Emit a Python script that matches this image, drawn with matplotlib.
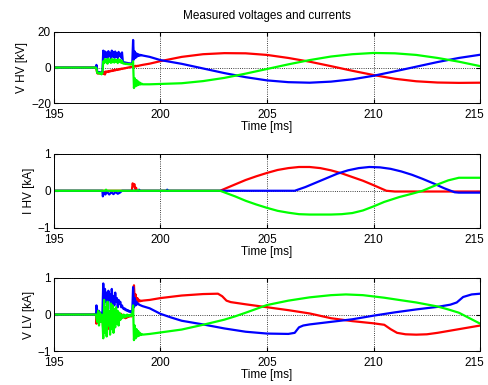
import numpy as np
import matplotlib
matplotlib.use("Agg")
import matplotlib.pyplot as plt
import matplotlib.transforms as mtransforms

plt.rcParams["font.family"] = ["Liberation Sans", "DejaVu Sans"]
plt.rcParams["font.size"] = 8.5

# burst sampling (197.00 ... 199.16 ms, 0.04 ms step)
t_burst = list(np.round(197.0 + 0.04 * np.arange(55), 2))

# ---- V HV [kV] ----
vhv_red_burst = [-1.0, -3.2, -3.4, -2.9, -3.3, -2.8, -3.0, -2.7, -3.6, -2.4, -3.9, -2.2,
                 -2.6, -2.1, -2.5, -1.9, -2.2, -1.7, -2.0, -1.5, -1.8, -1.3, -1.6, -1.1,
                 -1.4, -1.0, -1.2, -0.8, -1.0, -0.6, -0.8, -0.5, -0.6, -0.3, -0.4, -0.2,
                 -0.1, 0.0, 0.1, 0.2, 0.3, 0.4, 0.5, 0.6, 0.8, 0.5, 1.0, 0.7, 1.0, 0.9,
                 1.1, 1.2, 1.3, 1.4, 1.5]
vhv_blue_burst = [1.5, -2.5, -3.0, -2.5, -3.0, -2.8, -3.0, -2.5, 9.5,
                  5.5, 9.0, 6.0, 8.5, 5.2, 9.2, 6.5, 8.0, 5.0, 9.5, 6.2, 8.8, 5.5, 9.0,
                  6.0, 8.2, 5.3, 8.8, 6.4, 7.8, 5.6, 8.5,
                  3.2, 3.0, 2.9, 2.8, 2.7, 2.6, 2.5, 2.4, 2.4, 2.3, 2.2, 2.2,
                  15.5, 4.5, 9.0, 5.5, 8.0, 6.2, 7.5, 6.6, 7.2, 6.8, 7.0, 6.8]
vhv_green_burst = [-0.5, -3.0, -3.2, -2.8, -3.5, -3.0, -3.8, -3.1, 3.5,
                   2.5, 4.8, 3.0, 4.5, 2.2, 5.0, 3.2, 4.2, 2.6, 4.9, 3.0, 4.4, 2.8, 4.6,
                   3.4, 4.0, 2.5, 4.7, 3.1, 4.3, 2.7, 3.8,
                   2.4, 2.2, 2.3, 2.0, 2.2, 1.9, 2.1, 1.8, 2.0, 1.7, 1.9, 1.8,
                   3.5, -11.5, -6.0, -10.5, -7.0, -10.0, -7.8, -9.6, -8.5, -9.5, -9.0, -9.4]
vhv_t = [199.5, 200, 201, 202, 203, 204, 205, 206, 207, 208, 209, 210, 211, 212, 213, 214, 215]
vhv_red = [2.2, 3.6, 6.0, 7.5, 8.1, 8.0, 7.1, 5.4, 3.3, 0.8, -1.8, -4.2, -6.3, -7.7, -8.4, -8.6, -8.5]
vhv_blue = [6.0, 4.2, 2.1, -0.5, -3.1, -5.4, -7.2, -8.2, -8.5, -7.9, -6.6, -4.6, -2.1, 0.5, 3.1, 5.4, 7.2]
vhv_green = [-9.4, -9.2, -8.8, -7.6, -5.8, -3.4, -0.8, 1.8, 4.2, 6.2, 7.5, 8.2, 8.0, 7.1, 5.4, 3.3, 0.8]

# ---- I HV [kA] ----
ihv_red_t = [195, 198.66, 198.70, 198.74, 198.78, 198.82, 198.86, 198.9, 202.8, 203.5, 204,
             204.5, 205, 205.5, 206, 206.5, 207, 207.5, 208, 208.5, 209, 209.5, 210, 210.6,
             211, 215]
ihv_red = [0, 0, 0.2, 0.12, 0.18, 0.05, 0.08, 0, 0, 0.17, 0.29, 0.39, 0.48, 0.56, 0.61,
           0.64, 0.64, 0.61, 0.55, 0.47, 0.37, 0.27, 0.15, 0.0, -0.02, -0.02]
ihv_blue_t = [195, 197.28, 197.3, 197.36, 197.42, 197.5, 197.6, 197.7, 197.8, 197.9, 198.0,
              198.1, 198.2, 198.98, 199.0, 199.02, 200.3, 200.32, 200.34, 206.3, 206.8,
              207.3, 207.8, 208.3, 208.8, 209.3, 209.8, 210.3, 210.8, 211.3, 211.8, 212.3,
              212.8, 213.3, 213.8, 214, 215]
ihv_blue = [0, 0, -0.15, -0.02, -0.1, -0.03, -0.1, -0.04, -0.09, -0.03, -0.08, -0.05, 0,
            0, 0.03, 0, 0, 0.03, 0, 0, 0.1, 0.22, 0.34, 0.46, 0.55, 0.61, 0.64, 0.63, 0.59,
            0.52, 0.43, 0.32, 0.2, 0.07, -0.04, -0.05, -0.05]
ihv_green_t = [195, 197.4, 197.45, 197.5, 198.9, 198.95, 199.0, 202.8, 203.5, 204, 204.5,
               205, 205.5, 206, 206.5, 207, 207.5, 208, 208.5, 209, 209.5, 210, 210.5,
               211.2, 211.8, 212.3, 213, 213.5, 214, 215]
ihv_green = [0, 0, 0.03, 0, 0, 0.02, 0, 0, -0.15, -0.27, -0.37, -0.46, -0.54, -0.59, -0.63,
             -0.64, -0.64, -0.64, -0.63, -0.6, -0.53, -0.42, -0.3, -0.17, -0.08, 0.0, 0.17,
             0.28, 0.35, 0.35]

# ---- V LV [kA] ----
vlv_red_burst = [-0.25, 0.0, -0.05, 0.0, -0.1, 0.0, -0.05, 0.0, -0.45,
                 -0.1, 0.05, -0.35, 0.0, -0.2, 0.1, -0.4, 0.0, -0.15, 0.05, -0.3, 0.0,
                 -0.1, 0.05, -0.2, 0.0, -0.1, 0.05, 0.0, -0.05, 0.02, -0.03,
                 -0.05, -0.08, -0.05, -0.1, -0.07, -0.08, -0.05, -0.06, -0.05, -0.04, -0.05, -0.03,
                 0.1, 0.8, 0.35, 0.55, 0.3, 0.45, 0.35, 0.4, 0.36, 0.38, 0.37, 0.38]
vlv_blue_burst = [0.25, 0.1, 0.05, 0.1, 0.0, 0.05, 0.02, 0.0, 0.85,
                  0.25, 0.7, 0.35, 0.6, 0.2, 0.65, 0.4, 0.55, 0.15, 0.7, 0.3, 0.5, 0.25,
                  0.6, 0.35, 0.45, 0.2, 0.4, 0.3, 0.35, 0.2, 0.25,
                  0.18, 0.15, 0.17, 0.12, 0.14, 0.1, 0.12, 0.08, 0.1, 0.07, 0.08, 0.06,
                  0.75, 0.2, 0.45, 0.25, 0.35, 0.28, 0.3, 0.27, 0.26, 0.25, 0.24, 0.23]
vlv_green_burst = [-0.1, -0.2, 0.1, -0.3, 0.05, -0.2, 0.0, -0.15, -0.65,
                   0.4, -0.5, 0.2, -0.6, 0.35, -0.3, 0.1, -0.55, 0.3, -0.4, 0.25, -0.5,
                   0.15, -0.35, 0.2, -0.25, 0.1, -0.3, 0.05, -0.15, 0.0, -0.1,
                   -0.05, 0.0, -0.08, -0.02, -0.06, 0.0, -0.05, -0.02, -0.04, 0.0, -0.03, 0.0,
                   0.25, -0.7, -0.3, -0.65, -0.4, -0.6, -0.45, -0.58, -0.5, -0.56, -0.53, -0.55]
vlv_red_t = [199.5, 200, 201, 202, 202.7, 202.9, 203.1, 203.3, 204, 205, 206, 207, 208, 209,
             210, 210.5, 210.8, 211.1, 211.5, 212, 212.5, 213, 214, 215]
vlv_red = [0.4, 0.45, 0.52, 0.56, 0.57, 0.5, 0.38, 0.34, 0.28, 0.2, 0.12, 0.03, -0.1, -0.18,
           -0.24, -0.28, -0.4, -0.5, -0.54, -0.55, -0.54, -0.5, -0.4, -0.3]
vlv_blue_t = [199.5, 200, 200.5, 201, 202, 203, 204, 205, 206, 206.3, 206.5, 206.7, 207, 208,
              209, 210, 211, 212, 213, 213.6, 213.9, 214.2, 214.6, 215]
vlv_blue = [0.17, 0.02, -0.08, -0.17, -0.27, -0.38, -0.47, -0.52, -0.53, -0.5, -0.35, -0.3,
            -0.27, -0.2, -0.13, -0.03, 0.06, 0.14, 0.21, 0.27, 0.33, 0.48, 0.55, 0.57]
vlv_green_t = [199.5, 200, 201, 202, 203, 203.5, 204, 205, 206, 207, 208, 208.7, 209.5, 210.5,
               211.3, 212, 213, 213.5, 214, 214.5, 215]
vlv_green = [-0.53, -0.49, -0.41, -0.28, -0.14, -0.05, 0.05, 0.26, 0.38, 0.47, 0.53, 0.55,
             0.53, 0.46, 0.39, 0.33, 0.22, 0.14, 0.05, -0.1, -0.25]


def series(burst, t_tail, v_tail):
    # quiet (zero) until the switching burst starts at 197 ms
    return [195.0, 196.98] + t_burst + t_tail, [0.0, 0.0] + burst + v_tail


fig = plt.figure(figsize=(4.89, 3.85), dpi=100)
boxes = [[0.110, 0.732, 0.872, 0.185],
         [0.110, 0.408, 0.872, 0.193],
         [0.110, 0.088, 0.872, 0.190]]
axes = [fig.add_axes(b) for b in boxes]

panels = [
    [series(vhv_red_burst, vhv_t, vhv_red), series(vhv_blue_burst, vhv_t, vhv_blue),
     series(vhv_green_burst, vhv_t, vhv_green)],
    [(ihv_red_t, ihv_red), (ihv_blue_t, ihv_blue), (ihv_green_t, ihv_green)],
    [series(vlv_red_burst, vlv_red_t, vlv_red), series(vlv_blue_burst, vlv_blue_t, vlv_blue),
     series(vlv_green_burst, vlv_green_t, vlv_green)],
]
colors = ["#ff0000", "#0000ff", "#00ff00"]
ylabels = ["V HV [kV]", "I HV [kA]", "V LV [kA]"]
ylims = [(-20, 20), (-1, 1), (-1, 1)]
yticks = [[-20, 0, 20], [-1, 0, 1], [-1, 0, 1]]

shift_left = mtransforms.ScaledTranslation(-4 / 72, 0, fig.dpi_scale_trans)

for ax, lines, ylab, yl, yt in zip(axes, panels, ylabels, ylims, yticks):
    for (t, v), c in zip(lines, colors):
        ax.plot(t, v, color=c, linewidth=1.6)
    ax.set_xlim(195, 215)
    ax.set_ylim(*yl)
    ax.set_xticks([195, 200, 205, 210, 215])
    ax.set_yticks(yt)
    ax.grid(True, linestyle=":", color="k", linewidth=0.6)
    ax.tick_params(direction="in", length=3, top=True, right=True)
    ax.tick_params(axis="x", pad=4.5)
    ax.tick_params(axis="y", pad=2)
    for s in ax.spines.values():
        s.set_linewidth(0.7)
    ax.set_xlabel("Time [ms]", labelpad=0)
    ax.set_ylabel(ylab, labelpad=2)
    # keep the last x tick label inside the figure
    last = ax.get_xticklabels()[-1]
    last.set_transform(last.get_transform() + shift_left)

axes[0].set_title("Measured voltages and currents", fontsize=8.5, pad=9)

fig.savefig("out.png", dpi=100)
